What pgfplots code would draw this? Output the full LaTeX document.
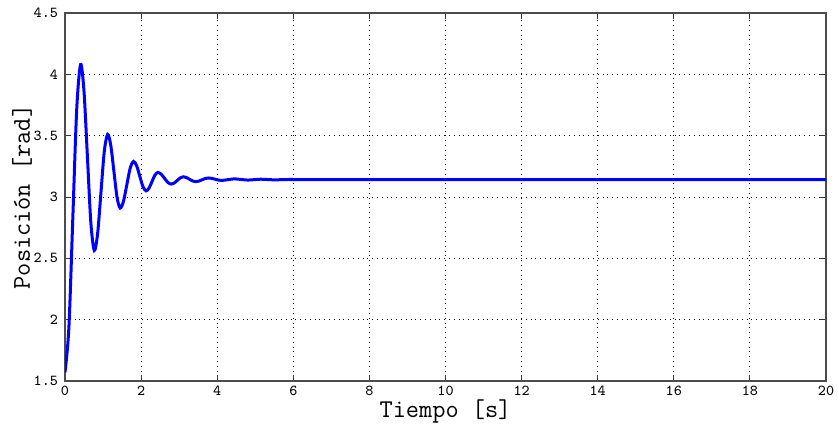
\documentclass[border=0pt]{standalone}
\usepackage{pgfplots}
\pgfplotsset{compat=1.18}
\begin{document}
\begin{tikzpicture}
\begin{axis}[
  scale only axis,
  width=380.5pt, height=184pt,
  xmin=0, xmax=20, ymin=1.5, ymax=4.5,
  xtick={0,2,...,20},
  ytick={1.5,2,2.5,3,3.5,4,4.5},
  tick align=inside,
  tick pos=both,
  major tick length=3pt,
  grid=major,
  grid style={black, dotted, line width=0.5pt},
  axis line style={black!70, line width=0.6pt},
  tick style={black!80, line width=0.5pt},
  /pgf/number format/assume math mode=true,
  ticklabel style={font=\ttfamily\fontsize{7.6}{8}\selectfont},
  xticklabel style={yshift=1pt},
  label style={font=\ttfamily\fontsize{12.8}{13}\selectfont},
  xlabel={Tiempo [s]},
  ylabel={Posición [rad]},
  xlabel style={yshift=5pt},
  ylabel style={yshift=-6pt},
  clip=true,
]
\addplot[blue, line width=1.5pt, smooth, tension=0.5] coordinates {
(0,1.571) (0.1025,1.938) (0.205,2.8255) (0.3075,3.713) (0.41,4.08)
(0.50,3.858) (0.59,3.3225) (0.68,2.787) (0.77,2.565)
(0.8575,2.703) (0.945,3.0375) (1.0325,3.372) (1.12,3.51)
(1.2025,3.422) (1.285,3.21) (1.3675,2.998) (1.45,2.91)
(1.5375,2.966) (1.625,3.10) (1.7125,3.234) (1.80,3.29)
(1.8825,3.255) (1.965,3.17) (2.0475,3.085) (2.13,3.05)
(2.2075,3.072) (2.285,3.125) (2.3625,3.178) (2.44,3.20)
(2.5275,3.186) (2.615,3.1525) (2.7025,3.119) (2.79,3.105)
(2.87,3.1138) (2.95,3.135) (3.03,3.1562) (3.11,3.165)
(3.19,3.159) (3.27,3.145) (3.35,3.131) (3.43,3.125)
(3.515,3.129) (3.60,3.14) (3.685,3.151) (3.77,3.155)
(3.8575,3.152) (3.945,3.145) (4.0325,3.138) (4.12,3.135)
(4.285,3.1415) (4.45,3.148) (4.625,3.143) (4.8,3.138)
(4.975,3.1415) (5.15,3.145) (5.5,3.14) (5.9,3.143) (6.3,3.1416)
(10,3.1416) (15,3.1416) (20,3.1416)
};
\end{axis}
\pgfresetboundingbox
\path[use as bounding box] ([xshift=-32.5pt,yshift=-21pt]current axis.south west) rectangle ([xshift=6pt,yshift=6.5pt]current axis.north east);
\end{tikzpicture}
\end{document}
